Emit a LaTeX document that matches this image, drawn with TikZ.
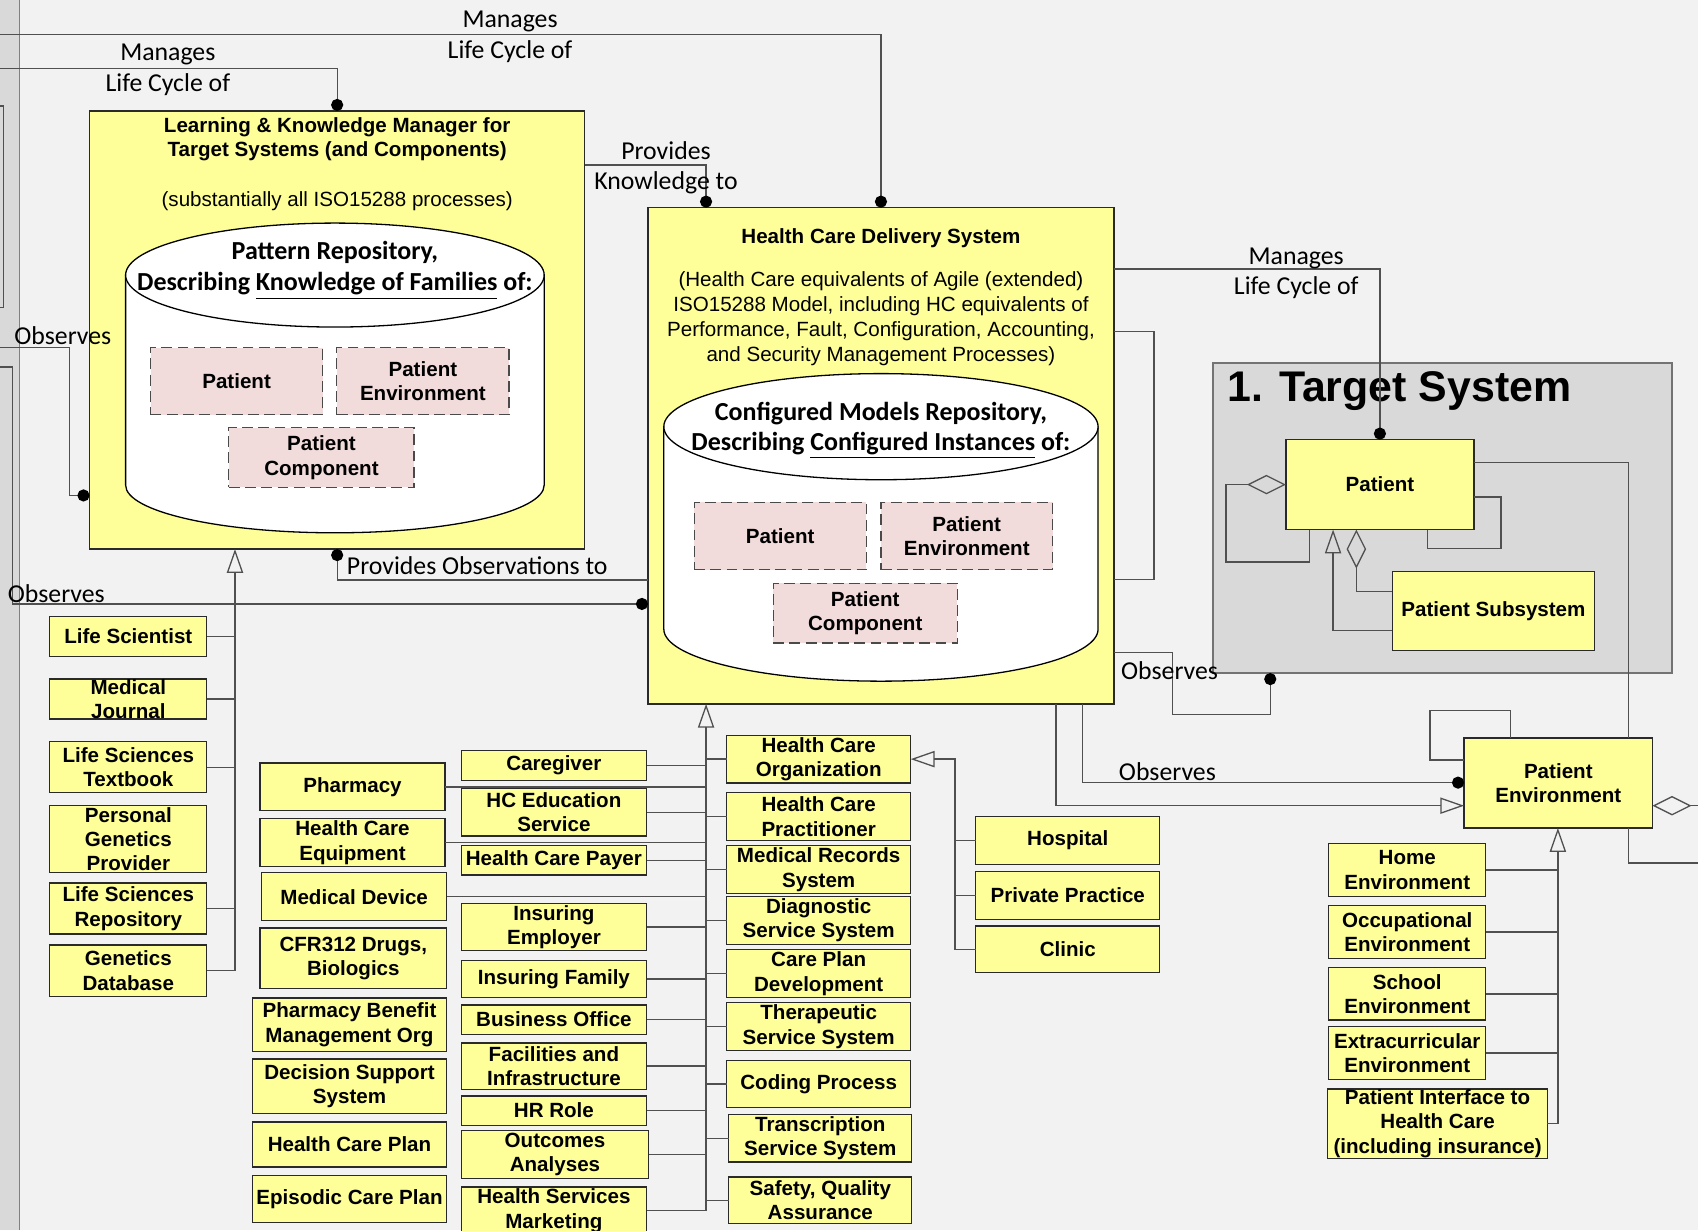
\documentclass[tikz,border=0pt]{standalone}
\usepackage{fontspec}
\setmainfont{Liberation Sans}
\newfontfamily\lblfont{Carlito}
\usetikzlibrary{arrows.meta,calc}

\definecolor{bgc}{HTML}{F2F2F2}
\definecolor{stripc}{HTML}{D9D9D9}
\definecolor{yel}{HTML}{FFFF99}
\definecolor{pinkc}{HTML}{F2DCDB}
\definecolor{grpc}{HTML}{D9D9D9}
\definecolor{linec}{HTML}{505050}
\definecolor{bordc}{HTML}{2A2A2A}

\tikzset{
  ybox/.style={draw=bordc, fill=yel, line width=0.6pt, inner sep=0pt, outer sep=0pt},
  pbox/.style={draw=bordc!85, fill=pinkc, line width=0.6pt, dash pattern=on 5pt off 2.5pt, inner sep=0pt, outer sep=0pt},
  grp/.style={draw=gray!90!black, fill=grpc, line width=0.7pt, inner sep=0pt, outer sep=0pt},
  btxt/.style={font=\fontsize{9.5}{11.25}\selectfont\bfseries, align=center, inner sep=0pt},
  ptxt/.style={font=\fontsize{9.5}{11.5}\selectfont, align=center, inner sep=0pt},
  ctxt/.style={font=\lblfont\bfseries\fontsize{12}{14.5}\selectfont, align=center, inner sep=0pt},
  lbl/.style={font=\lblfont\fontsize{11.9}{14}\selectfont, inner sep=0pt},
  conn/.style={draw=linec, line width=0.6pt},
  gen/.style={conn, -{Triangle[open, length=11pt, width=7.5pt]}},
  agg/.style={conn, -{Diamond[open, length=18pt, width=9pt]}},
  dotend/.style={conn, -{Circle[length=5.6pt, color=black]}},
  dotstart/.style={conn, {Circle[length=5.6pt, color=black]}-},
  cyl/.style={draw=black, fill=white, line width=0.6pt},
}

% box from (x1,y1) to (x2,y2) with a centred label node
\newcommand\mkbox[7]{%
  \node[#1, minimum width={(#5-#3)*0.5pt}, minimum height={(#6-#4)*0.5pt}] (#2) at ({(#3+#5)/2},{(#4+#6)/2}) {};
  \node[btxt] (#2-t) at (#2.center) {#7};}

\begin{document}
\begin{tikzpicture}[x=0.5pt, y=-0.5pt]
\useasboundingbox (0,0) rectangle (1568,1136);
\clip (0,0) rectangle (1568,1136);
\fill[bgc] (0,0) rectangle (1568,1136);

% left margin strip and the edge of a box beyond it
\fill[stripc] (0,0) rectangle (18,1136);
\draw[conn, draw=gray] (18,0) -- (18,1136);
\draw[conn] (-5,98) -- (3,98) -- (3,284) -- (-5,284);

% routing coordinates
\coordinate (busL) at (217,0);
\coordinate (busH) at (652,0);
\coordinate (busO) at (882,0);
\coordinate (busE) at (1438.6,0);
\coordinate (busR) at (1504,0);
\coordinate (busO1) at (999.5,0);
\coordinate (busO2) at (975,0);
\coordinate (offA) at (0,31.7);
\coordinate (offB) at (0,63);
\coordinate (offC) at (0,320.6);
\coordinate (offD) at (0,339);
\coordinate (offE) at (1568,797);
\coordinate (offF) at (1568,744);

% ---------- Learning & Knowledge Manager ----------
\node[ybox, minimum width={(540-82.7)*0.5pt}, minimum height={(507-102.5)*0.5pt}] (lkm) at (311.35,304.75) {};
\node[btxt] (lkm-title) at (311.35,128.5) {Learning \& Knowledge Manager for\\Target Systems (and Components)};
\node[ptxt] (lkm-sub) at (311.35,185.5) {(substantially all ISO15288 processes)};
\path[cyl] (116,254) -- (116,448) arc[start angle=180, end angle=0, x radius=193.25, y radius=44] -- (502.5,254) -- cycle;
\draw[cyl] (309.25,254) ellipse[x radius=193.25, y radius=48];
\node[ctxt] (lkm-cyl) at (309.25,249.5) {Pattern Repository,\\Describing \underline{Knowledge of Families} of:};
\mkbox{pbox}{kpat}{139}{321}{298}{383}{Patient}
\mkbox{pbox}{kenv}{311}{321}{470}{383}{Patient\\Environment}
\mkbox{pbox}{kcomp}{211.3}{395}{382.4}{450}{Patient\\Component}

% ---------- Health Care Delivery System ----------
\node[ybox, minimum width={(1028.6-598.4)*0.5pt}, minimum height={(650-191.8)*0.5pt}] (hcds) at (813.5,420.9) {};
\node[btxt] (hcds-title) at (813.5,219.5) {Health Care Delivery System};
\node[ptxt] (hcds-sub) at (813.5,294) {(Health Care equivalents of Agile (extended)\\ISO15288 Model, including HC equivalents of\\Performance, Fault, Configuration, Accounting,\\and Security Management Processes)};
\path[cyl] (613,394) -- (613,581) arc[start angle=180, end angle=0, x radius=200.5, y radius=48] -- (1014,394) -- cycle;
\draw[cyl] (813.5,394) ellipse[x radius=200.5, y radius=49];
\node[ctxt, font=\lblfont\bfseries\fontsize{12}{14}\selectfont] (hcds-cyl) at (813.5,397.5) {Configured Models Repository,\\Describing \underline{Configured Instances} of:};
\mkbox{pbox}{cpat}{641}{464}{800}{526}{Patient}
\mkbox{pbox}{cenv}{813.5}{464}{972}{526}{Patient\\Environment}
\mkbox{pbox}{ccomp}{714}{538.6}{884}{593.7}{Patient\\Component}

% ---------- Target System ----------
\node[grp, minimum width={(1544-1120)*0.5pt}, minimum height={(621.5-335)*0.5pt}] (tsys) at (1332,478.25) {};
\node[font=\fontsize{19.8}{24}\selectfont\bfseries, anchor=west, inner sep=0pt] (tsys-title) at (1133,361) {1. Target System};
\mkbox{ybox}{pat}{1187.5}{406}{1361}{489}{Patient}
\mkbox{ybox}{psub}{1285.6}{527.8}{1472.6}{600.8}{Patient Subsystem}
\mkbox{ybox}{penv}{1352}{681.6}{1526}{764.6}{Patient\\Environment}

% ---------- left column ----------
\mkbox{ybox}{lsci}{46}{569}{191}{606}{Life Scientist}
\mkbox{ybox}{mjour}{46}{627}{191}{664}{Medical\\Journal}
\mkbox{ybox}{lstext}{46}{685}{191}{732}{Life Sciences\\Textbook}
\mkbox{ybox}{pgen}{46}{744}{191}{806}{Personal\\Genetics\\Provider}
\mkbox{ybox}{lsrep}{46}{815.5}{191}{862.5}{Life Sciences\\Repository}
\mkbox{ybox}{gdb}{46}{872.5}{191}{920}{Genetics\\Database}

% ---------- second column ----------
\mkbox{ybox}{pharm}{240}{704.6}{411}{748.6}{Pharmacy}
\mkbox{ybox}{hcequip}{240}{756}{411}{800}{Health Care\\Equipment}
\mkbox{ybox}{meddev}{241.6}{806}{412.5}{850}{Medical Device}
\mkbox{ybox}{cfr}{240}{857}{412.5}{913}{CFR312 Drugs,\\Biologics}
\mkbox{ybox}{pbm}{233}{921.6}{412.5}{971}{Pharmacy Benefit\\Management Org}
\mkbox{ybox}{dss}{233}{978}{412.5}{1028}{Decision Support\\System}
\mkbox{ybox}{hcplan}{233}{1036}{412.5}{1077.6}{Health Care Plan}
\mkbox{ybox}{ecplan}{233}{1085.6}{412.5}{1129}{Episodic Care Plan}

% ---------- third column ----------
\mkbox{ybox}{caregiver}{426}{693}{597}{721}{Caregiver}
\mkbox{ybox}{hcedu}{426}{728}{597}{772}{HC Education\\Service}
\mkbox{ybox}{hcpayer}{426}{781}{597}{808}{Health Care Payer}
\mkbox{ybox}{insemp}{426}{834}{597}{878}{Insuring\\Employer}
\mkbox{ybox}{insfam}{426}{887}{597}{921}{Insuring Family}
\mkbox{ybox}{busoff}{426}{928}{597}{955}{Business Office}
\mkbox{ybox}{facil}{426}{963}{597}{1006}{Facilities and\\Infrastructure}
\mkbox{ybox}{hrrole}{426}{1012}{597}{1039}{HR Role}
\mkbox{ybox}{outcomes}{426}{1044}{599}{1088}{Outcomes\\Analyses}
\mkbox{ybox}{hsmkt}{426}{1096}{597}{1140}{Health Services\\Marketing}

% ---------- fourth column ----------
\mkbox{ybox}{hco}{671}{679}{841}{723}{Health Care\\Organization}
\mkbox{ybox}{hcprac}{671}{732}{841}{776}{Health Care\\Practitioner}
\mkbox{ybox}{mrs}{671}{781}{841}{825}{Medical Records\\System}
\mkbox{ybox}{diag}{671}{828}{841}{872}{Diagnostic\\Service System}
\mkbox{ybox}{cpd}{671}{877}{841}{921}{Care Plan\\Development}
\mkbox{ybox}{ther}{671}{926}{841}{970}{Therapeutic\\Service System}
\mkbox{ybox}{coding}{671}{979}{841}{1023}{Coding Process}
\mkbox{ybox}{trans}{673}{1029}{842}{1073}{Transcription\\Service System}
\mkbox{ybox}{sqa}{673}{1087}{842}{1130}{Safety, Quality\\Assurance}

% ---------- organisation kinds ----------
\mkbox{ybox}{hosp}{901}{754}{1071}{798}{Hospital}
\mkbox{ybox}{priv}{901}{805}{1071}{849}{Private Practice}
\mkbox{ybox}{clinic}{901}{855}{1071}{898}{Clinic}

% ---------- environments ----------
\mkbox{ybox}{home}{1227}{779}{1372}{828}{Home\\Environment}
\mkbox{ybox}{occ}{1227}{836}{1372}{885}{Occupational\\Environment}
\mkbox{ybox}{school}{1227}{893.6}{1372}{942}{School\\Environment}
\mkbox{ybox}{extra}{1227}{948}{1372}{997}{Extracurricular\\Environment}
\mkbox{ybox}{pihc}{1226}{1005.6}{1429}{1069.7}{Patient Interface to\\Health Care\\(including insurance)}

% ================= connectors =================
% life-cycle management from the left
\draw[dotend] (offA) -| (hcds.north);
\draw[dotend] (offB) -| (lkm.north);
% observation links from the left
\draw[dotend] (offC) -- ++(64,0) |- ($(lkm.south west)+(0,-49.5)$);
\draw[dotend] (offD) -- ++(11.4,0) |- ($(hcds.south west)+(0,-92.3)$);
% knowledge and observations between the two systems
\draw[dotend] ($(lkm.north east)+(0,49.9)$) -| (busH |- hcds.north);
\draw[dotstart] (lkm.south) |- ($(hcds.south west)+(0,-114.4)$);
% self association of the delivery system
\draw[conn] ($(hcds.north east)+(0,114.2)$) -- ++(37,0) -- ++(0,229) -- ($(hcds.north east)+(0,343.2)$);
% delivery system manages the patient
\draw[dotend] ($(hcds.north east)+(0,56.6)$) -| (pat.north);
% delivery system observes the target system
\draw[dotend] ($(hcds.south east)+(0,-47.4)$) -- ++(54.4,0) |- ($(tsys.south west)+(53,38.5)$) -- ($(tsys.south west)+(53,0)$);
% delivery system and patient environment
\draw[dotend] (busO1 |- hcds.south) |- ($(penv.north west)+(0,41.1)$);
\draw[gen] (busO2 |- hcds.south) |- ($(penv.south west)+(0,-20.6)$);

% knowledge sources specialise the knowledge manager
\draw[gen] (gdb.east) -| (busL |- lkm.south);
\foreach \n in {lsci,mjour,lstext,lsrep} \draw[conn] (\n.east) -- (\n.east -| busL);

% roles specialise the delivery system
\draw[gen] (hsmkt.east) -| (busH |- hcds.south);
\foreach \n in {pharm,hcequip,meddev,caregiver,hcedu,hcpayer,insemp,insfam,busoff,facil,hrrole,outcomes}
  \draw[conn] (\n.east) -- (\n.east -| busH);
\foreach \n in {hco,hcprac,mrs,diag,cpd,ther,coding,trans,sqa}
  \draw[conn] (\n.west) -- (\n.west -| busH);

% kinds of health care organization
\draw[gen] (clinic.west) -| (busO |- hco.east) -- (hco.east);
\foreach \n in {hosp,priv} \draw[conn] (\n.west) -- (\n.west -| busO);

% patient structure
\draw[agg] ($(pat.south west)+(21.5,0)$) |- ++(-77,30) |- (pat.west);
\draw[conn] ($(pat.north east)+(0,53)$) -- ++(25,0) |- ++(-68,47.6) -- ($(pat.south west)+(130.5,0)$);
\draw[gen] ($(psub.south west)+(0,-18.8)$) -| ($(pat.south west)+(43.5,0)$);
\draw[agg] ($(psub.north west)+(0,18.2)$) -| ($(pat.south west)+(65,0)$);

% patient and environment
\draw[conn] ($(pat.north east)+(0,21)$) -| (busR |- penv.north);
\draw[conn] (busR |- penv.south) |- (offE);
\draw[agg] (offF) -- ($(penv.south east)+(0,-20.6)$);
\draw[conn] ($(penv.north west)+(0,20.2)$) -- ++(-31.5,0) |- ++(74.5,-45.8) -- ($(penv.north west)+(43,0)$);

% kinds of environment
\draw[gen] (pihc.east) -| (busE |- penv.south);
\foreach \n in {home,occ,school,extra} \draw[conn] (\n.east) -- (\n.east -| busE);

% ================= connector labels =================
\node[lbl] (l-m1a) at (471,19.5) {Manages};
\node[lbl] (l-m1b) at (471,47.5) {Life Cycle of};
\node[lbl] (l-m2a) at (155,50.5) {Manages};
\node[lbl] (l-m2b) at (155,78.5) {Life Cycle of};
\node[lbl] (l-pk1) at (615,139.5) {Provides};
\node[lbl] (l-pk2) at (615,168.5) {Knowledge to};
\node[lbl] (l-ob1) at (58,310) {Observes};
\node[lbl] (l-ob2) at (52,548) {Observes};
\node[lbl, anchor=west] (l-po) at (320,522) {Provides Observations to};
\node[lbl] (l-m3a) at (1197,238.5) {Manages};
\node[lbl] (l-m3b) at (1197,266) {Life Cycle of};
\node[lbl] (l-ob3) at (1080,619.5) {Observes};
\node[lbl] (l-ob4) at (1078,713) {Observes};
\end{tikzpicture}
\end{document}
